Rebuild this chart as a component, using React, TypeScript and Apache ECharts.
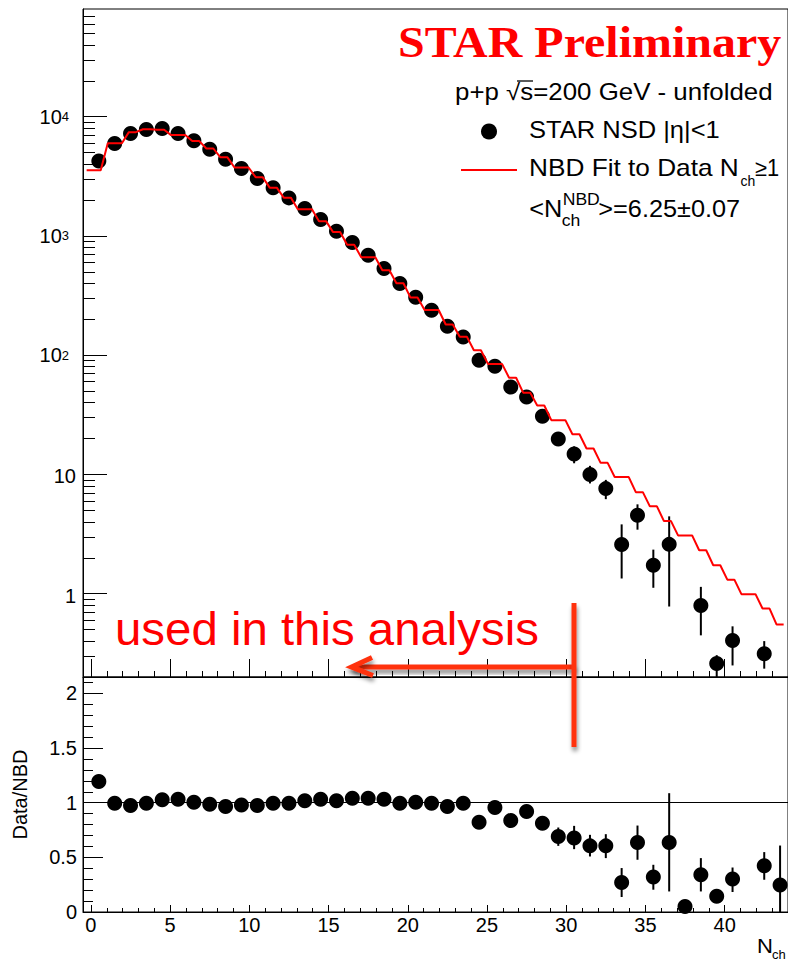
import React, { useEffect, useRef } from 'react';
import * as echarts from 'echarts';

// ---------------- data ----------------
const nchCenters = [
  0.5, 1.5, 2.5, 3.5, 4.5, 5.5, 6.5, 7.5, 8.5, 9.5, 10.5, 11.5, 12.5, 13.5, 14.5,
  15.5, 16.5, 17.5, 18.5, 19.5, 20.5, 21.5, 22.5, 23.5, 24.5, 25.5, 26.5, 27.5, 28.5,
  29.5, 30.5, 31.5, 32.5, 33.5, 34.5, 35.5, 36.5, 37.5, 38.5, 39.5, 40.5, 41.5, 42.5, 43.5,
];

// STAR NSD |eta|<1 (unfolded), points off the log scale are null
const starData: (number | null)[] = [
  4250, 5960, 7230, 7810, 7960, 7230, 6270, 5335, 4400, 3675, 3030, 2530, 2085, 1700, 1373,
  1095, 880, 689, 533, 399, 306, 238, 175, 142, 90.6, 80.7, 54.1, 44.6, 30.7,
  19.8, 14.8, 10.0, 7.6, 2.58, 4.54, 1.73, 2.59, null, 0.797, 0.259, 0.405, null, 0.314, null,
];

// NBD fit value in each N_ch bin
const nbdValues = [
  3557, 5990, 7420, 7850, 7760, 7010, 6240, 5410, 4560, 3750, 3110, 2540, 2095, 1672, 1330,
  1077, 845, 662, 516, 401, 304, 239, 181, 143, 110, 84.5, 64.6, 48.5, 37.8,
  28.5, 21.7, 16.5, 12.5, 9.5, 7.1, 5.4, 4.06, 3.08, 2.31, 1.73, 1.31, 0.99, 0.75, 0.55,
];

// Data / NBD ratio
const ratioValues: (number | null)[] = [
  1.193, 0.995, 0.974, 0.995, 1.026, 1.032, 1.005, 0.986, 0.965, 0.98, 0.974, 0.995, 0.995, 1.017, 1.032,
  1.017, 1.041, 1.041, 1.032, 0.995, 1.005, 0.995, 0.965, 0.995, 0.822, 0.955, 0.837, 0.919, 0.813,
  0.69, 0.676, 0.605, 0.605, 0.27, 0.636, 0.32, 0.636, 0.051, 0.341, 0.143, 0.301, null, 0.423, 0.247,
];

// error bars: [N_ch, low, high]
const starErrors = [
  [30.5, 12.4, 17.2], [31.5, 8.4, 11.8], [32.5, 6.2, 9.0], [33.5, 1.34, 3.81], [34.5, 3.44, 5.61],
  [35.5, 1.12, 2.34], [36.5, 0.78, 4.45], [38.5, 0.447, 1.14], [39.5, 0.15, 0.305], [40.5, 0.25, 0.532],
  [42.5, 0.235, 0.4],
];
const ratioErrors = [
  [29.5, 0.605, 0.773], [30.5, 0.575, 0.788], [31.5, 0.508, 0.706], [32.5, 0.493, 0.712],
  [33.5, 0.137, 0.402], [34.5, 0.478, 0.791], [35.5, 0.204, 0.432], [36.5, 0.188, 1.087],
  [38.5, 0.188, 0.493], [40.5, 0.183, 0.407], [42.5, 0.295, 0.548], [43.5, 0.0, 0.608],
];

// tick values
const xMajorTicks = [0, 5, 10, 15, 20, 25, 30, 35, 40];
const xMinorTicks = [
  1, 2, 3, 4, 6, 7, 8, 9, 11, 12, 13, 14, 16, 17, 18, 19, 21, 22, 23, 24, 26, 27, 28, 29,
  31, 32, 33, 34, 36, 37, 38, 39, 41, 42, 43, 44,
];
const yLogMajor = [1, 10, 100, 1000, 10000];
const yLogMinor = [
  0.3, 0.4, 0.5, 0.6, 0.7, 0.8, 0.9, 2, 3, 4, 5, 6, 7, 8, 9, 20, 30, 40, 50, 60, 70, 80, 90,
  200, 300, 400, 500, 600, 700, 800, 900, 2000, 3000, 4000, 5000, 6000, 7000, 8000, 9000,
  20000, 30000, 40000, 50000, 60000, 70000,
];
const ratioMajor = [0, 0.5, 1, 1.5, 2];
const ratioMinor = [0.1, 0.2, 0.3, 0.4, 0.6, 0.7, 0.8, 0.9, 1.1, 1.2, 1.3, 1.4, 1.6, 1.7, 1.8, 1.9, 2.1];

// the fit (TF1) is drawn as a polyline sampled at a fixed step
const NBD_SAMPLE_START = -0.27;
const NBD_SAMPLE_STEP = 0.4444;

const FONT = '"Liberation Sans", Arial, Helvetica, sans-serif';

export default function App() {
  const ref = useRef<HTMLDivElement>(null);

  useEffect(() => {
    const chart = echarts.init(ref.current!, null, { renderer: 'svg' });

    const topPoints = nchCenters
      .map((x, i) => (starData[i] == null ? null : [x, starData[i]]))
      .filter((p) => p !== null);
    const ratioPoints = nchCenters
      .map((x, i) => (ratioValues[i] == null ? null : [x, ratioValues[i]]))
      .filter((p) => p !== null);

    const nbdLine: number[][] = [];
    for (let k = 0; k < 1000; k++) {
      const x = NBD_SAMPLE_START + k * NBD_SAMPLE_STEP;
      const bin = Math.max(0, Math.trunc(x));
      if (bin >= nbdValues.length) break;
      nbdLine.push([x, nbdValues[bin]]);
    }

    const errRender = (params: any, api: any) => {
      const x = api.value(0);
      const a = api.coord([x, api.value(1)]);
      const b = api.coord([x, api.value(2)]);
      return {
        type: 'line',
        shape: { x1: a[0], y1: a[1], x2: b[0], y2: b[1] },
        style: { stroke: '#000', lineWidth: 2 },
      };
    };

    const lineStyle = { color: '#000', width: 1 };
    const xBase = { type: 'value', min: -0.5, max: 44, splitLine: { show: false } };

    const txt = (text: string, x: number, y: number, size: number, sx = 1.1, extra: any = {}) => ({
      type: 'text',
      x,
      y,
      scaleX: sx,
      z: 20,
      style: {
        text,
        fill: '#000',
        fontSize: size,
        fontFamily: FONT,
        align: 'left',
        textAlign: 'left',
        verticalAlign: 'middle',
        textVerticalAlign: 'middle',
        ...extra,
      },
    });

    const ARROW = '#ff3010';
    const shadow = {
      shadowColor: 'rgba(0,0,0,0.45)',
      shadowBlur: 4,
      shadowOffsetX: 1,
      shadowOffsetY: 4,
    };

    const symbolStyle = { color: '#000', opacity: 1 };

    const option: any = {
      animation: false,
      backgroundColor: '#fff',
      textStyle: { fontFamily: FONT },
      grid: [
        { left: 83, top: 9, width: 706, height: 668, show: true, borderColor: '#000', borderWidth: 1 },
        { left: 83, top: 677, width: 706, height: 235, show: true, borderColor: '#000', borderWidth: 1 },
      ],
      xAxis: [
        {
          ...xBase, gridIndex: 0, position: 'bottom',
          axisLine: { show: true, onZero: false, lineStyle },
          axisTick: { show: true, inside: true, length: 18, customValues: xMajorTicks, lineStyle },
          axisLabel: { show: false },
        },
        {
          ...xBase, gridIndex: 0, position: 'bottom',
          axisLine: { show: false, onZero: false },
          axisTick: { show: true, inside: true, length: 6, customValues: xMinorTicks, lineStyle },
          axisLabel: { show: false },
        },
        {
          ...xBase, gridIndex: 1, position: 'bottom',
          axisLine: { show: true, onZero: false, lineStyle },
          axisTick: { show: true, inside: true, length: 7, customValues: xMajorTicks, lineStyle },
          axisLabel: { show: true, customValues: xMajorTicks, fontSize: 20, color: '#000', fontFamily: FONT, margin: 3 },
        },
        {
          ...xBase, gridIndex: 1, position: 'bottom',
          axisLine: { show: false, onZero: false },
          axisTick: { show: true, inside: true, length: 4, customValues: xMinorTicks, lineStyle },
          axisLabel: { show: false },
        },
      ],
      yAxis: [
        {
          type: 'log', logBase: 10, gridIndex: 0, min: 0.2, max: 80000, position: 'left',
          splitLine: { show: false },
          axisLine: { show: true, onZero: false, lineStyle },
          axisTick: { show: true, inside: true, length: 24, customValues: yLogMajor, lineStyle },
          axisLabel: {
            show: true,
            customValues: yLogMajor,
            margin: 7,
            color: '#000',
            fontSize: 20,
            fontFamily: FONT,
            formatter: (v: number) => {
              const e = Math.round(Math.log10(v));
              if (e === 0) return '{p|1}';
              if (e === 1) return '{p|10}';
              return '{b|10}{s|' + e + '}';
            },
            rich: {
              p: { fontSize: 20, fontFamily: FONT, color: '#000', padding: [4, 0, 0, 0] },
              b: { fontSize: 20, lineHeight: 20, fontFamily: FONT, color: '#000', padding: [10, 0, 0, 0], verticalAlign: 'bottom' },
              s: { fontSize: 13, lineHeight: 13, fontFamily: FONT, color: '#000', padding: [0, 7, 0, 0], verticalAlign: 'middle' },
            },
          },
        },
        {
          type: 'log', logBase: 10, gridIndex: 0, min: 0.2, max: 80000, position: 'left',
          splitLine: { show: false },
          axisLine: { show: false, onZero: false },
          axisTick: { show: true, inside: true, length: 12, customValues: yLogMinor, lineStyle },
          axisLabel: { show: false },
        },
        {
          type: 'value', gridIndex: 1, min: 0, max: 2.15, position: 'left',
          splitLine: { show: false },
          axisLine: { show: true, onZero: false, lineStyle },
          axisTick: { show: true, inside: true, length: 20, customValues: ratioMajor, lineStyle },
          axisLabel: { show: true, customValues: ratioMajor, fontSize: 20, color: '#000', fontFamily: FONT, margin: 6 },
          name: 'Data/NBD',
          nameLocation: 'middle',
          nameGap: 53,
          nameRotate: 90,
          nameTextStyle: { fontSize: 20, color: '#000', fontFamily: FONT },
        },
        {
          type: 'value', gridIndex: 1, min: 0, max: 2.15, position: 'left',
          splitLine: { show: false },
          axisLine: { show: false, onZero: false },
          axisTick: { show: true, inside: true, length: 10, customValues: ratioMinor, lineStyle },
          axisLabel: { show: false },
        },
      ],
      series: [
        {
          type: 'scatter', name: 'STAR NSD', xAxisIndex: 0, yAxisIndex: 0, data: topPoints,
          symbol: 'circle', symbolSize: 15, itemStyle: symbolStyle, z: 2, silent: true,
        },
        {
          type: 'custom', xAxisIndex: 0, yAxisIndex: 0, data: starErrors, renderItem: errRender,
          clip: true, z: 2, silent: true,
        },
        {
          type: 'line', name: 'NBD', xAxisIndex: 0, yAxisIndex: 0, data: nbdLine,
          symbol: 'none', showSymbol: false, lineStyle: { color: '#ff0000', width: 2 }, clip: true, z: 3, silent: true,
        },
        {
          type: 'line', xAxisIndex: 2, yAxisIndex: 2, data: [], z: 1, silent: true,
          markLine: {
            silent: true, symbol: ['none', 'none'], label: { show: false },
            lineStyle: { color: '#000', width: 1, type: 'solid' },
            data: [{ yAxis: 1 }],
          },
        },
        {
          type: 'custom', xAxisIndex: 2, yAxisIndex: 2, data: ratioErrors, renderItem: errRender,
          clip: true, z: 2, silent: true,
        },
        {
          type: 'scatter', name: 'ratio', xAxisIndex: 2, yAxisIndex: 2, data: ratioPoints,
          symbol: 'circle', symbolSize: 15, itemStyle: symbolStyle, z: 3, silent: true,
        },
      ],
      graphic: {
        elements: [
          txt('STAR Preliminary', 398, 42, 44, 1.09, {
            fill: '#ff0000', fontWeight: 'bold', fontFamily: '"Liberation Serif", "Times New Roman", serif',
          }),
          txt('p+p √s=200 GeV - unfolded', 455, 92, 23, 1.125),
          { type: 'line', z: 20, shape: { x1: 517, y1: 81, x2: 533, y2: 81 }, style: { stroke: '#000', lineWidth: 1.3 } },
          { type: 'circle', z: 20, shape: { cx: 489, cy: 131.5, r: 8 }, style: { fill: '#000' } },
          txt('STAR NSD |η|<1', 529, 130.3, 23, 1.11),
          { type: 'line', z: 20, shape: { x1: 461, y1: 170, x2: 517, y2: 170 }, style: { stroke: '#ff0000', lineWidth: 2 } },
          txt('NBD Fit to Data N', 529, 168.5, 23, 1.14),
          txt('ch', 740.5, 181.2, 14, 1.0),
          txt('≥1', 755, 168.5, 23, 0.95),
          txt('<N', 529.3, 208.7, 23, 1.1),
          txt('NBD', 562.7, 199.3, 16, 1.1),
          txt('ch', 561.7, 221.2, 16, 1.1),
          txt('>=6.25±0.07', 598.3, 208.7, 23, 1.1),
          txt('used in this analysis', 115, 629, 46, 1.03, { fill: '#ff0000' }),
          txt('N', 757, 946, 21, 1.05),
          txt('ch', 772, 954, 13, 1.0),
          // annotation arrow (bars drawn as rects so that their shadow renders)
          { type: 'rect', z: 25, shape: { x: 352, y: 664.5, width: 224, height: 5 }, style: { fill: ARROW, ...shadow } },
          {
            type: 'polyline', z: 25, shape: { points: [[372, 657.5], [351.5, 667], [373, 675.5]] },
            style: { stroke: ARROW, lineWidth: 5, fill: null, lineJoin: 'miter', ...shadow },
          },
          { type: 'rect', z: 25, shape: { x: 571.5, y: 603, width: 5, height: 144 }, style: { fill: ARROW, ...shadow } },
        ],
      },
    };

    chart.setOption(option);
    return () => chart.dispose();
  }, []);

  return (
    <div
      ref={ref}
      style={{ position: 'absolute', left: 0, top: 0, width: 788, height: 961, background: '#fff' }}
    />
  );
}
